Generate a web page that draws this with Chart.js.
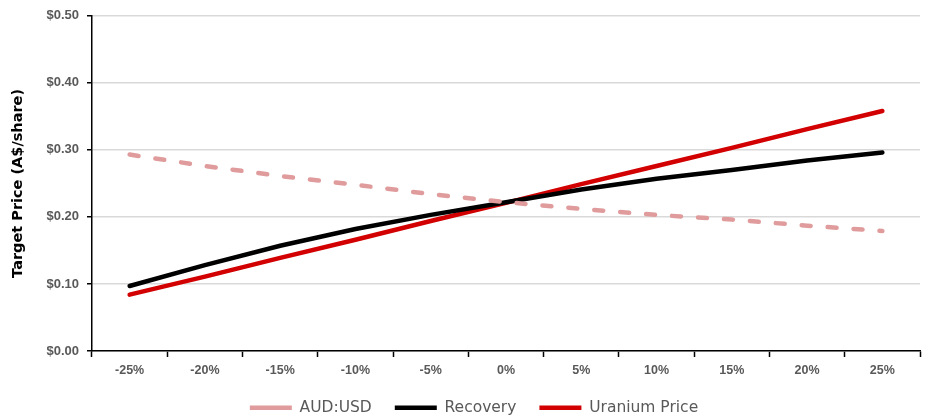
<!DOCTYPE html>
<html>
<head>
<meta charset="utf-8">
<script src="https://cdn.jsdelivr.net/npm/chart.js@4/dist/chart.umd.min.js"></script>
<style>
  html, body { margin: 0; padding: 0; background: #ffffff; }
  #wrap { width: 929px; height: 418px; position: relative; }
</style>
</head>
<body>
<div id="wrap"><canvas id="c"></canvas></div>
<script>
// Sensitivity of target price to each input, change from base case
const categories = ['-25%', '-20%', '-15%', '-10%', '-5%', '0%', '5%', '10%', '15%', '20%', '25%'];
const audUsd   = [0.293, 0.276, 0.261, 0.248, 0.234, 0.222, 0.212, 0.203, 0.196, 0.187, 0.179];
const recovery = [0.097, 0.128, 0.157, 0.182, 0.203, 0.222, 0.241, 0.257, 0.270, 0.284, 0.296];
const uranium  = [0.084, 0.111, 0.139, 0.166, 0.194, 0.221, 0.249, 0.276, 0.303, 0.331, 0.358];
const yTicks   = [0, 0.1, 0.2, 0.3, 0.4, 0.5];

const tickFontX = { family: '"Liberation Sans", Arial, sans-serif', size: 12.5, weight: 'bold' };
const tickFontY = { family: '"Liberation Sans", Arial, sans-serif', size: 13, weight: 'bold' };

// Centre the legend under the plot area rather than the whole canvas
const legendCentre = {
  id: 'legendCentre',
  afterLayout(chart) {
    const lg = chart.legend;
    if (!lg) return;
    const shift = ((chart.chartArea.left + chart.chartArea.right) - (lg.left + lg.right)) / 2 - 32;
    lg.left += shift;
    lg.right += shift;
  }
};

new Chart(document.getElementById('c'), {
  type: 'line',
  data: {
    labels: categories,
    datasets: [
      {
        label: 'AUD:USD',
        data: audUsd,
        borderColor: '#e09c9c',
        backgroundColor: '#e09c9c',
        borderWidth: 4.5,
        borderDash: [9, 17],
        borderCapStyle: 'round',
        pointRadius: 0,
        tension: 0
      },
      {
        label: 'Recovery',
        data: recovery,
        borderColor: '#000000',
        backgroundColor: '#000000',
        borderWidth: 4.5,
        borderCapStyle: 'round',
        pointRadius: 0,
        tension: 0
      },
      {
        label: 'Uranium Price',
        data: uranium,
        borderColor: '#d20000',
        backgroundColor: '#d20000',
        borderWidth: 4.5,
        borderCapStyle: 'round',
        pointRadius: 0,
        tension: 0
      }
    ]
  },
  options: {
    responsive: true,
    maintainAspectRatio: false,
    animation: false,
    layout: { padding: { top: 8, right: 9, left: 0, bottom: 0 } },
    plugins: {
      tooltip: { enabled: false },
      legend: {
        position: 'bottom',
        maxHeight: 41,
        labels: {
          usePointStyle: true,
          pointStyle: 'line',
          pointStyleWidth: 42,
          padding: 23,
          color: '#595959',
          font: { family: '"DejaVu Sans", sans-serif', size: 15.5 }
        }
      }
    },
    scales: {
      x: {
        type: 'category',
        offset: true,
        grid: {
          display: true,
          offset: true,
          drawOnChartArea: false,
          drawTicks: true,
          tickLength: 6,
          tickColor: '#000000',
          tickWidth: 1.5
        },
        border: { display: true, color: '#000000', width: 1.5 },
        ticks: { color: '#595959', font: tickFontX, padding: 6, maxRotation: 0, autoSkip: false },
        afterFit: (scale) => { scale.height = 26; }
      },
      y: {
        min: 0,
        max: 0.5,
        afterBuildTicks: (scale) => { scale.ticks = yTicks.map(v => ({ value: v })); },
        grid: {
          color: '#d9d9d9',
          lineWidth: 1.5,
          drawTicks: true,
          tickLength: 5,
          tickColor: '#000000',
          tickWidth: 1.5
        },
        border: { display: true, color: '#000000', width: 1.5 },
        ticks: {
          color: '#595959',
          font: tickFontY,
          padding: 8,
          callback: (v) => '$' + Number(v).toFixed(2)
        },
        title: {
          display: true,
          text: 'Target Price (A$/share)',
          color: '#000000',
          font: { family: '"DejaVu Sans", sans-serif', size: 14.5, weight: 'bold' },
          padding: { top: 10, bottom: 0 }
        },
        afterFit: (scale) => { scale.width = 92; }
      }
    }
  },
  plugins: [legendCentre]
});
</script>
</body>
</html>
